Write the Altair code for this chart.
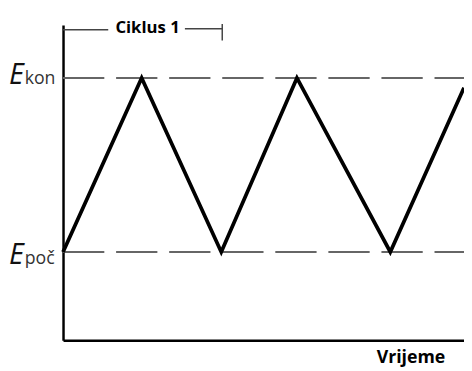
import altair as alt
import pandas as pd

# waveform (time, potential)
wave_t = [0, 80, 161, 238, 333, 408]
wave_v = [90, 267, 90, 267, 90, 257]

levels = [267, 90]          # E_kon, E_poč
label_main = ["E", "E"]
label_sub = ["kon", "poč"]
label_v = [261, 78]         # baselines of labels

cycle_text = "Ciklus 1"
time_text = "Vrijeme"

W, H = 408, 321
xs = alt.Scale(domain=[0, 408], nice=False, zero=False, padding=0)
ys = alt.Scale(domain=[0, 321], nice=False, zero=False, padding=0)

wave = pd.DataFrame({"t": wave_t, "v": wave_v, "o": range(len(wave_t))})

base_axis_x = alt.Axis(title=None, labels=False, ticks=False, grid=False,
                       domain=True, domainColor="black", domainWidth=2.5)
base_axis_y = alt.Axis(title=None, labels=False, ticks=False, grid=False,
                       domain=True, domainColor="black", domainWidth=2.5)

line = alt.Chart(wave).mark_line(color="black", strokeWidth=3.8,
                                 strokeJoin="miter", strokeCap="butt").encode(
    x=alt.X("t:Q", scale=xs, axis=base_axis_x),
    y=alt.Y("v:Q", scale=ys, axis=base_axis_y),
    order="o:O",
)

dash = alt.Chart(pd.DataFrame({"v": levels})).mark_rule(
    color="#666666", strokeWidth=2, strokeDash=[42, 12]).encode(
    y=alt.Y("v:Q", scale=ys),
    x=alt.value(0), x2=alt.value(W),
)

labels = pd.DataFrame({"m": label_main, "s": label_sub, "v": label_v})
e_text = alt.Chart(labels).mark_text(
    font="Open Sans", fontSize=29, fontStyle="italic", fontWeight=400,
    align="right", baseline="alphabetic", color="#111111").encode(
    y=alt.Y("v:Q", scale=ys), x=alt.value(-40), text="m:N")
sub_text = alt.Chart(labels).mark_text(
    font="Open Sans", fontSize=18, fontWeight=400,
    align="left", baseline="alphabetic", color="#333333").encode(
    y=alt.Y("v:Q", scale=ys), x=alt.value(-39), text="s:N")

# cycle bracket
brk = pd.DataFrame({"a": [0, 124], "b": [46, 162], "v": [316, 317]})
bracket = alt.Chart(brk).mark_rule(color="#444444", strokeWidth=1.5).encode(
    x=alt.X("a:Q", scale=xs), x2="b:Q", y=alt.Y("v:Q", scale=ys))
tick = alt.Chart(pd.DataFrame({"t": [162], "v1": [305], "v2": [322]})).mark_rule(
    color="#444444", strokeWidth=1.5).encode(
    x=alt.X("t:Q", scale=xs), y=alt.Y("v1:Q", scale=ys), y2="v2:Q")
cyc = alt.Chart(pd.DataFrame({"t": [86], "v": [313], "s": [cycle_text]})).mark_text(
    font="Open Sans", fontSize=17, fontWeight="bold", align="center",
    baseline="alphabetic", color="black").encode(
    x=alt.X("t:Q", scale=xs), y=alt.Y("v:Q", scale=ys), text="s:N")
tim = alt.Chart(pd.DataFrame({"t": [354], "v": [-23], "s": [time_text]})).mark_text(
    font="Open Sans", fontSize=18, fontWeight="bold", align="center",
    baseline="alphabetic", color="black").encode(
    x=alt.X("t:Q", scale=xs), y=alt.Y("v:Q", scale=ys), text="s:N")

chart = alt.layer(dash, line, e_text, sub_text, bracket, tick, cyc, tim).properties(
    width=W, height=H,
    autosize=alt.AutoSizeParams(type="none"),
    padding={"left": 56, "top": 14, "right": 0, "bottom": 28},
    background="white",
).configure_view(strokeWidth=0)

chart.save("out.html", embed_options={"renderer": "svg", "actions": False})
